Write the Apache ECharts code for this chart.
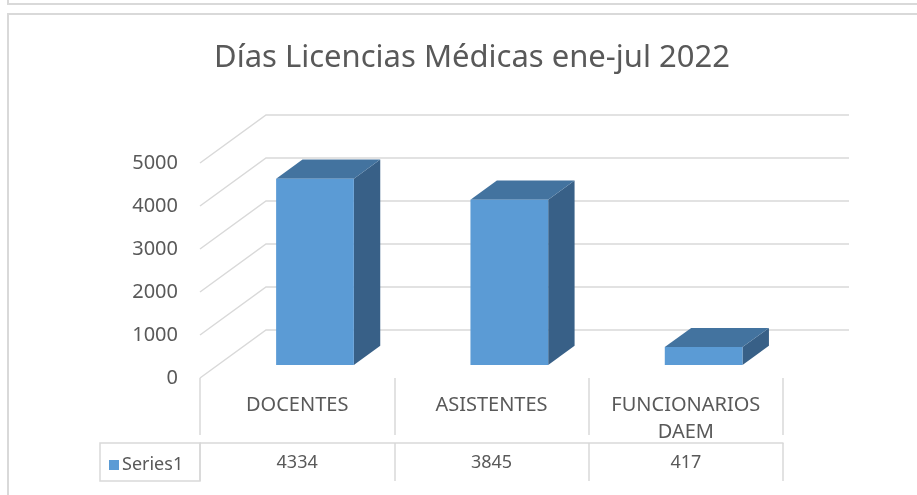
<!DOCTYPE html>
<html>
<head>
<meta charset="utf-8">
<script src="https://cdn.jsdelivr.net/npm/echarts@6/dist/echarts.min.js"></script>
<style>
html,body{margin:0;padding:0;background:#fff;}
#chart{width:917px;height:495px;}
</style>
</head>
<body>
<div id="chart"></div>
<script>
var categories = ['DOCENTES', 'ASISTENTES', 'FUNCIONARIOS\nDAEM'];
var values = [4334, 3845, 417];
var yTicks = [0, 1000, 2000, 3000, 4000, 5000];
var seriesName = 'Series1';

// depth of the fake 3d box
var DX = 66, DY = -48;
var F1 = 0.27, F2 = 0.67;
var textColor = '#595959';
var gridColor = '#D9D9D9';

function renderWall(params, api) {
    var cs = params.coordSys;
    var p = api.coord([0, api.value(1)]);
    var xl = cs.x, xr = cs.x + cs.width;
    return {
        type: 'polyline',
        shape: { points: [[xl, p[1]], [xl + DX, p[1] + DY], [xr + DX, p[1] + DY]] },
        style: { stroke: gridColor, lineWidth: 1.5, fill: null }
    };
}

function renderBar(params, api) {
    var cat = api.value(0), v = api.value(1);
    var base = api.coord([cat, 0]);
    var top = api.coord([cat, v]);
    var band = api.size([1, 0])[0];
    var w = band * 0.4;
    var x0 = base[0] - w / 2 + DX * F1, x1 = x0 + w;
    var yb = base[1] + DY * F1, yt = top[1] + DY * F1;
    var ddx = DX * (F2 - F1), ddy = DY * (F2 - F1);
    return {
        type: 'group',
        children: [
            { type: 'polygon', shape: { points: [[x1, yt], [x1 + ddx, yt + ddy], [x1 + ddx, yb + ddy], [x1, yb]] },
              style: { fill: '#386087' } },
            { type: 'polygon', shape: { points: [[x0, yt], [x0 + ddx, yt + ddy], [x1 + ddx, yt + ddy], [x1, yt]] },
              style: { fill: '#43739F' } },
            { type: 'rect', shape: { x: x0, y: yt, width: w, height: yb - yt },
              style: { fill: '#5B9BD5' } }
        ]
    };
}

var chart = echarts.init(document.getElementById('chart'));
var option = {
    animation: false,
    title: {
        text: 'Días Licencias Médicas ene-jul 2022',
        left: 467, textAlign: 'center', top: 38,
        textStyle: { fontFamily: 'Noto Sans', fontWeight: 'normal', fontSize: 31, color: textColor }
    },
    legend: {
        data: [seriesName],
        left: 104, top: 451,
        icon: 'rect', itemWidth: 10, itemHeight: 10, itemGap: 4,
        textStyle: { fontFamily: 'Noto Sans', fontSize: 18, color: textColor, padding: [0, 0, 0, -2] }
    },
    grid: { left: 200, right: 134, top: 163, bottom: 117 },
    xAxis: [{
        type: 'category',
        data: categories,
        offset: 8,
        axisLine: { show: false },
        axisTick: { show: true, length: 57, lineStyle: { color: gridColor, width: 1.5 } },
        axisLabel: { margin: 6, fontFamily: 'Noto Sans', fontSize: 20, lineHeight: 27, color: textColor }
    }, {
        type: 'category',
        data: values.map(String),
        position: 'bottom',
        offset: 65,
        axisLine: { show: true, lineStyle: { color: gridColor, width: 1.5 } },
        axisTick: { show: true, length: 38, lineStyle: { color: gridColor, width: 1.5 } },
        axisLabel: { margin: 11, fontFamily: 'Noto Sans', fontSize: 18, color: textColor }
    }],
    yAxis: {
        type: 'value', min: 0, max: 5000, interval: 1000,
        axisLine: { show: false }, axisTick: { show: false }, splitLine: { show: false },
        axisLabel: { margin: 22, fontFamily: 'Noto Sans', fontSize: 20, color: textColor,
            formatter: function (v) { return String(v); } }
    },
    graphic: [
        { type: 'rect', shape: { x: 8, y: -20, width: 930, height: 24 }, style: { fill: null, stroke: gridColor, lineWidth: 2 } },
        { type: 'rect', shape: { x: 8, y: 14, width: 930, height: 500 }, style: { fill: null, stroke: gridColor, lineWidth: 2 } },
        { type: 'rect', shape: { x: 100, y: 443, width: 100, height: 38 }, style: { fill: null, stroke: gridColor, lineWidth: 1.5 } }
    ],
    series: [{
        type: 'custom',
        name: 'walls',
        renderItem: renderWall,
        data: yTicks.map(function (t) { return [0, t]; }),
        z: 1, silent: true
    }, {
        type: 'custom',
        name: seriesName,
        renderItem: renderBar,
        itemStyle: { color: '#5B9BD5' },
        data: values.map(function (v, i) { return [i, v]; }),
        z: 2
    }]
};
chart.setOption(option);
</script>
</body>
</html>
